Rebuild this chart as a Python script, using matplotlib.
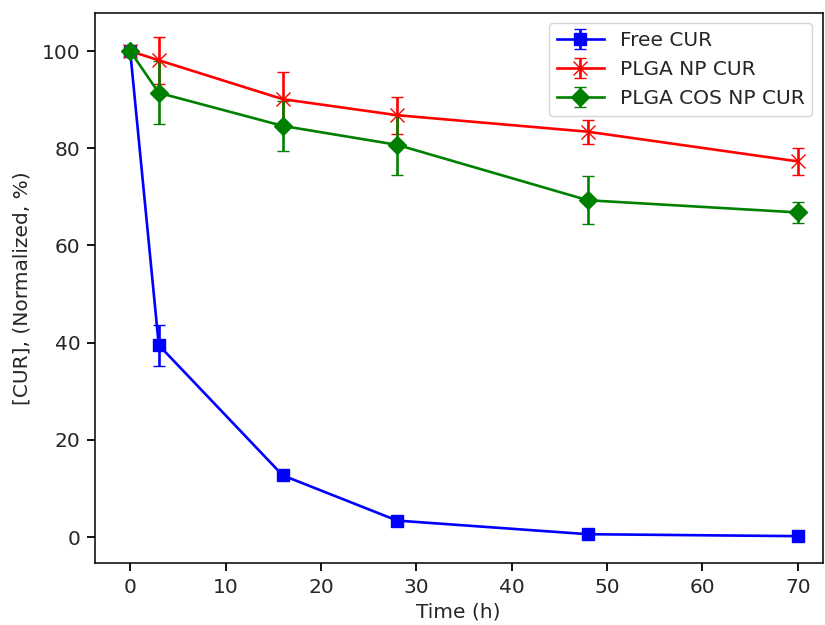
import numpy as np
import matplotlib
matplotlib.use('Agg')
import matplotlib.pyplot as plt


time_h = [0, 3, 16, 28, 48, 70]

free_cur = [100, 39.5, 12.7, 3.4, 0.6, 0.2]
free_cur_err = [0.5, 4.2, 0.8, 0.6, 0.3, 0.3]

plga_np = [100, 98.1, 90.1, 86.8, 83.4, 77.3]
plga_np_err = [0.5, 4.8, 5.5, 3.8, 2.5, 2.7]

plga_cos_np = [100, 91.4, 84.6, 80.7, 69.3, 66.8]
plga_cos_np_err = [0.5, 6.5, 5.2, 6.2, 4.9, 2.2]

plt.rcParams['font.size'] = 14.5
plt.rcParams['text.color'] = '#262626'
plt.rcParams['xtick.labelcolor'] = '#262626'
plt.rcParams['ytick.labelcolor'] = '#262626'
plt.rcParams['axes.labelcolor'] = '#262626'

fig = plt.figure(figsize=(8.25, 6.25), dpi=100)
ax = fig.add_subplot(111)
ax.errorbar(time_h, free_cur, yerr=free_cur_err, label='Free CUR', color='b',
            marker='s', markersize=9, capsize=4.5, linewidth=1.9)
ax.errorbar(time_h, plga_np, yerr=plga_np_err, label='PLGA NP CUR', color='r',
            marker='x', markersize=9.5, capsize=4.5, linewidth=1.9)
ax.errorbar(time_h, plga_cos_np, yerr=plga_cos_np_err, label='PLGA COS NP CUR', color='g',
            marker='D', markersize=9, capsize=4.5, linewidth=1.9)
ax.set_xlim(-3.7, 72.6)
ax.set_ylim(-5.35, 107.8)
ax.tick_params(width=1.3, length=5.5, pad=5)
for s in ax.spines.values():
    s.set_linewidth(1.1)
ax.set_xlabel('Time (h)')
ax.set_ylabel('[CUR], (Normalized, %)', labelpad=7)
ax.legend(loc='upper right', fontsize=14.5, handlelength=2.3)
plt.subplots_adjust(left=0.115, right=0.997, top=0.979, bottom=0.099)
plt.savefig('out.png')
